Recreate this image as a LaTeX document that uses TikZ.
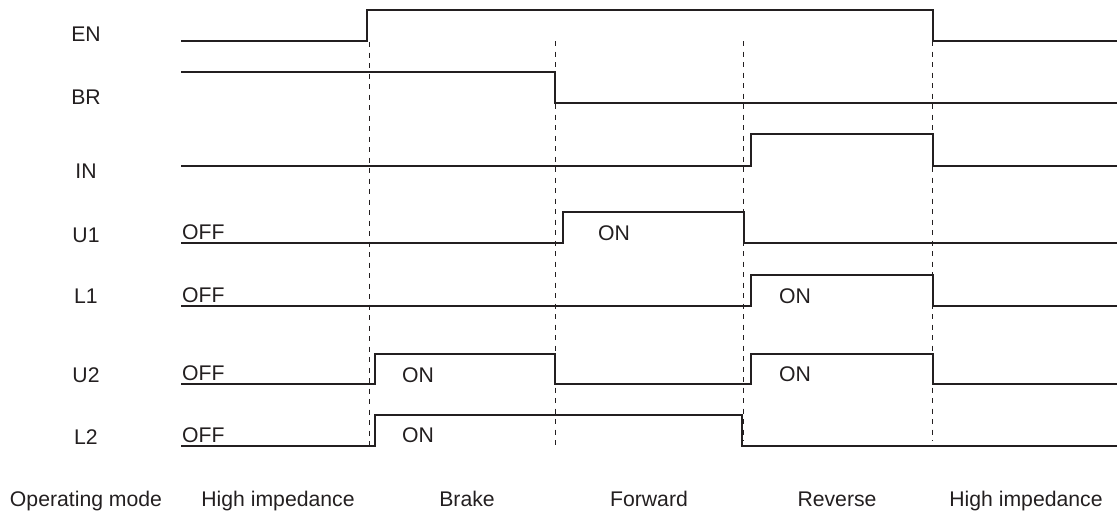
\documentclass[tikz,border=0pt]{standalone}
\usepackage{fontspec}
\setmainfont{Liberation Sans}
\definecolor{ink}{RGB}{35,31,32}
\begin{document}
\begin{tikzpicture}[x=1pt,y=-1pt,
  sig/.style={draw=ink,line width=2.8pt,line join=miter},
  guide/.style={draw=ink,line width=1pt,dash pattern=on 5pt off 5.5pt},
  lbl/.style={anchor=base,inner sep=0pt,text=ink,font=\fontsize{21.2}{25}\selectfont},
  lblw/.style={lbl,anchor=base west}]
\useasboundingbox (0,0) rectangle (1117,515);
% dashed guides
\coordinate (g1t) at (369,42);  \coordinate (g1b) at (369,446);
\coordinate (g2t) at (555,41);  \coordinate (g2b) at (555,447);
\coordinate (g3t) at (743,41);  \coordinate (g3b) at (743,441);
\coordinate (g4t) at (932,41);  \coordinate (g4b) at (932,441);
\draw[guide] (g1t) -- (g1b);
\draw[guide] (g2t) -- (g2b);
\draw[guide] (g3t) -- (g3b);
\draw[guide] (g4t) -- (g4b);
% signal labels
\node[lbl] (lEN) at (86,41) {EN};
\node[lbl] (lBR) at (86,104) {BR};
\node[lbl] (lIN) at (86,178) {IN};
\node[lbl] (lU1) at (86,242) {U1};
\node[lbl] (lL1) at (86,303) {L1};
\node[lbl] (lU2) at (86,382) {U2};
\node[lbl] (lL2) at (86,444) {L2};
% waveforms
\draw[sig] (181,41) -- (367,41) -- (367,10) -- (933,10) -- (933,41) -- (1117,41);
\draw[sig] (181,72) -- (555,72) -- (555,103) -- (1117,103);
\draw[sig] (181,166) -- (751,166) -- (751,134) -- (933,134) -- (933,166) -- (1117,166);
\draw[sig] (181,243) -- (563,243) -- (563,212) -- (744,212) -- (744,243) -- (1117,243);
\draw[sig] (181,306) -- (751,306) -- (751,275) -- (933,275) -- (933,306) -- (1117,306);
\draw[sig] (181,384) -- (375,384) -- (375,354) -- (555,354) -- (555,384) -- (751,384) -- (751,354) -- (933,354) -- (933,384) -- (1117,384);
\draw[sig] (181,446) -- (375,446) -- (375,415) -- (742,415) -- (742,446) -- (1117,446);
% OFF / ON labels
\node[lblw] (oU1) at (182,239) {OFF};
\node[lblw] (oL1) at (182,302) {OFF};
\node[lblw] (oU2) at (182,380) {OFF};
\node[lblw] (oL2) at (182,442) {OFF};
\node[lblw] (nU1) at (598,240) {ON};
\node[lblw] (nL1) at (779,303) {ON};
\node[lblw] (nU2a) at (402,382) {ON};
\node[lblw] (nU2b) at (779,381) {ON};
\node[lblw] (nL2) at (402,442) {ON};
% operating modes
\node[lbl] (mOp) at (86,506) {Operating mode};
\node[lbl] (mH1) at (278,506) {High impedance};
\node[lbl] (mBr) at (467,506) {Brake};
\node[lbl] (mFw) at (649,506) {Forward};
\node[lbl] (mRv) at (837,506) {Reverse};
\node[lbl] (mH2) at (1026,506) {High impedance};
\end{tikzpicture}
\end{document}
